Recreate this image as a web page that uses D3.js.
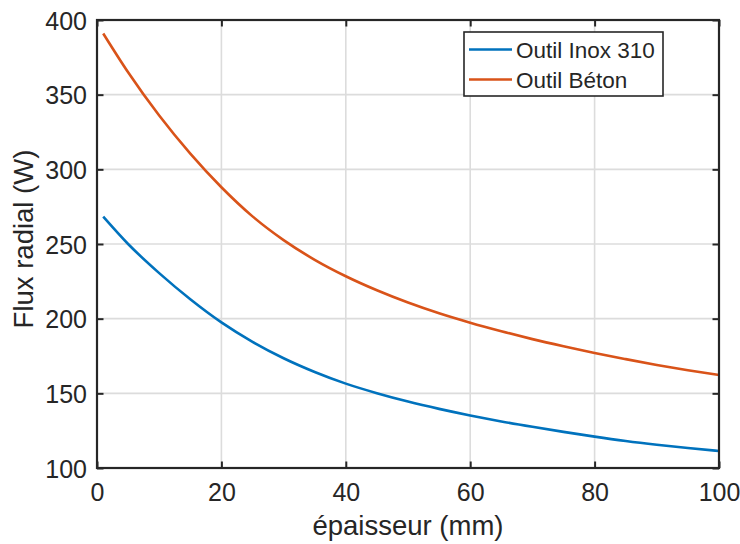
<!DOCTYPE html>
<html>
<head>
<meta charset="utf-8">
<script src="https://cdn.jsdelivr.net/npm/d3@7/dist/d3.min.js"></script>
<style>
  html, body { margin: 0; padding: 0; background: #fff; }
  svg { display: block; }
  text { font-family: "Liberation Sans", Arial, Helvetica, sans-serif; fill: #262626; }
</style>
</head>
<body>
<svg id="chart" width="740" height="544"></svg>
<script>
// Data
const epaisseur = [1, 5, 10, 15, 20, 25, 30, 35, 40, 45, 50, 55, 60, 65, 70, 75, 80, 85, 90, 95, 100];
const fluxInox  = [268.3, 250, 230.5, 213, 197.5, 184.5, 173.5, 164.3, 156.5, 150.1, 144.5, 139.6, 135.2, 131.2, 127.6, 124.2, 121.0, 118.1, 115.6, 113.4, 111.4];
const fluxBeton = [391, 365, 336, 310.5, 288, 268.5, 252.6, 239.4, 228.4, 219.0, 210.8, 203.6, 197.3, 191.6, 186.3, 181.5, 177.0, 172.9, 169.0, 165.5, 162.3];
const seriesNames = ["Outil Inox 310", "Outil Béton"];
const seriesColors = ["#0072BD", "#D95319"];
const xTicks = [0, 20, 40, 60, 80, 100];
const yTicks = [100, 150, 200, 250, 300, 350, 400];
const xLabel = "épaisseur (mm)";
const yLabel = "Flux radial (W)";

const svg = d3.select("#chart");
const L = 97, R = 719, T = 20, B = 468;
const x = d3.scaleLinear().domain([0, 100]).range([L, R]);
const y = d3.scaleLinear().domain([100, 400]).range([B, T]);
const axisColor = "#262626";
const tickLen = 6.5;

// grid
const grid = svg.append("g");
grid.selectAll("line.gx").data(xTicks.slice(1, -1)).enter().append("line")
  .attr("x1", d => x(d)).attr("x2", d => x(d)).attr("y1", T).attr("y2", B)
  .attr("stroke", "#dcdcdc").attr("stroke-width", 1.6);
grid.selectAll("line.gy").data(yTicks.slice(1, -1)).enter().append("line")
  .attr("y1", d => y(d)).attr("y2", d => y(d)).attr("x1", L).attr("x2", R)
  .attr("stroke", "#dcdcdc").attr("stroke-width", 1.6);

// lines
const line = d3.line().x((d, i) => x(epaisseur[i])).y(d => y(d)).curve(d3.curveMonotoneX);
[fluxInox, fluxBeton].forEach((s, k) => {
  svg.append("path").datum(s).attr("d", line)
    .attr("fill", "none").attr("stroke", seriesColors[k]).attr("stroke-width", 2.6)
    .attr("stroke-linejoin", "round");
});

// axes with inward ticks (bottom, left, top, right)
const fmt = d3.format("d");
const axB = svg.append("g").attr("transform", `translate(0,${B})`)
  .call(d3.axisBottom(x).tickValues(xTicks).tickFormat(fmt).tickSizeInner(-tickLen).tickSizeOuter(0).tickPadding(15));
const axL = svg.append("g").attr("transform", `translate(${L},0)`)
  .call(d3.axisLeft(y).tickValues(yTicks).tickFormat(fmt).tickSizeInner(-tickLen).tickSizeOuter(0).tickPadding(10));
const axT = svg.append("g").attr("transform", `translate(0,${T})`)
  .call(d3.axisTop(x).tickValues(xTicks).tickFormat("").tickSizeInner(-tickLen).tickSizeOuter(0));
const axR = svg.append("g").attr("transform", `translate(${R},0)`)
  .call(d3.axisRight(y).tickValues(yTicks).tickFormat("").tickSizeInner(-tickLen).tickSizeOuter(0));
[axB, axL, axT, axR].forEach(a => {
  a.select(".domain").remove();
  a.selectAll(".tick line").attr("stroke", axisColor).attr("stroke-width", 2);
  a.selectAll(".tick text").attr("fill", axisColor).style("font-size", "25px")
    .style("font-family", '"Liberation Sans", Arial, sans-serif');
});
axL.selectAll(".tick text").attr("dy", "0.36em");
axB.selectAll(".tick text").attr("dy", "0.71em");

// frame
svg.append("rect").attr("x", L).attr("y", T).attr("width", R - L).attr("height", B - T)
  .attr("fill", "none").attr("stroke", axisColor).attr("stroke-width", 2.2);

// axis labels
svg.append("text").attr("x", (L + R) / 2).attr("y", 535).attr("text-anchor", "middle")
  .style("font-size", "27.5px").text(xLabel);
svg.append("text").attr("transform", "translate(33,239) rotate(-90)").attr("text-anchor", "middle")
  .style("font-size", "27.5px").text(yLabel);

// legend
const lg = svg.append("g");
lg.append("rect").attr("x", 464).attr("y", 32).attr("width", 199).attr("height", 64)
  .attr("fill", "#fff").attr("stroke", axisColor).attr("stroke-width", 1.6);
seriesNames.forEach((n, k) => {
  const cy = 49.5 + k * 30;
  lg.append("line").attr("x1", 469).attr("x2", 512).attr("y1", cy).attr("y2", cy)
    .attr("stroke", seriesColors[k]).attr("stroke-width", 2.6);
  lg.append("text").attr("x", 516).attr("y", cy + 8).style("font-size", "22.5px").text(n);
});
</script>
</body>
</html>
